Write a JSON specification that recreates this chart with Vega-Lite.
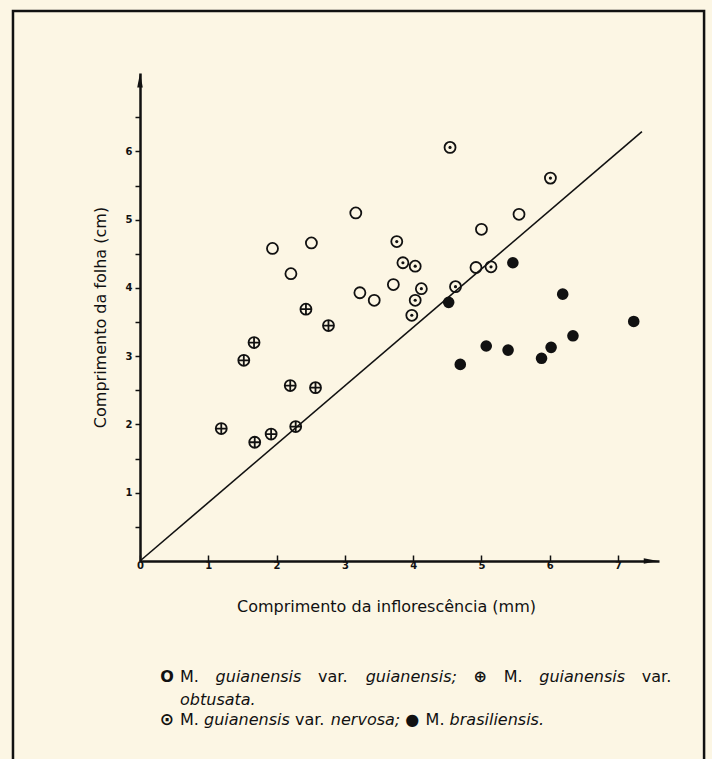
{
  "$schema": "https://vega.github.io/schema/vega-lite/v6.json",
  "width": 519,
  "height": 488,
  "autosize": "none",
  "padding": {"left": 140, "top": 73, "right": 53, "bottom": 198},
  "background": "#fcf6e4",
  "config": {
    "view": {"stroke": null},
    "text": {"font": "DejaVu Sans", "fontSize": 16, "color": "#111"}
  },
  "datasets": {
    "pontos": [
      {"x": 1.94, "y": 4.58, "grupo": "guianensis"},
      {"x": 2.51, "y": 4.66, "grupo": "guianensis"},
      {"x": 2.21, "y": 4.21, "grupo": "guianensis"},
      {"x": 3.16, "y": 5.10, "grupo": "guianensis"},
      {"x": 3.22, "y": 3.93, "grupo": "guianensis"},
      {"x": 3.43, "y": 3.82, "grupo": "guianensis"},
      {"x": 3.71, "y": 4.05, "grupo": "guianensis"},
      {"x": 5.55, "y": 5.08, "grupo": "guianensis"},
      {"x": 5.00, "y": 4.86, "grupo": "guianensis"},
      {"x": 4.92, "y": 4.30, "grupo": "guianensis"},
      {"x": 3.76, "y": 4.68, "grupo": "nervosa"},
      {"x": 3.85, "y": 4.37, "grupo": "nervosa"},
      {"x": 4.03, "y": 4.32, "grupo": "nervosa"},
      {"x": 4.12, "y": 3.99, "grupo": "nervosa"},
      {"x": 4.03, "y": 3.82, "grupo": "nervosa"},
      {"x": 3.98, "y": 3.60, "grupo": "nervosa"},
      {"x": 4.62, "y": 4.02, "grupo": "nervosa"},
      {"x": 5.14, "y": 4.31, "grupo": "nervosa"},
      {"x": 4.54, "y": 6.06, "grupo": "nervosa"},
      {"x": 6.01, "y": 5.61, "grupo": "nervosa"},
      {"x": 5.46, "y": 4.37, "grupo": "brasiliensis"},
      {"x": 4.52, "y": 3.79, "grupo": "brasiliensis"},
      {"x": 6.19, "y": 3.91, "grupo": "brasiliensis"},
      {"x": 7.23, "y": 3.51, "grupo": "brasiliensis"},
      {"x": 6.34, "y": 3.30, "grupo": "brasiliensis"},
      {"x": 4.69, "y": 2.88, "grupo": "brasiliensis"},
      {"x": 5.07, "y": 3.15, "grupo": "brasiliensis"},
      {"x": 5.39, "y": 3.09, "grupo": "brasiliensis"},
      {"x": 5.88, "y": 2.97, "grupo": "brasiliensis"},
      {"x": 6.02, "y": 3.13, "grupo": "brasiliensis"},
      {"x": 2.43, "y": 3.69, "grupo": "obtusata"},
      {"x": 2.76, "y": 3.45, "grupo": "obtusata"},
      {"x": 1.67, "y": 3.20, "grupo": "obtusata"},
      {"x": 1.52, "y": 2.94, "grupo": "obtusata"},
      {"x": 2.20, "y": 2.57, "grupo": "obtusata"},
      {"x": 2.57, "y": 2.54, "grupo": "obtusata"},
      {"x": 1.19, "y": 1.94, "grupo": "obtusata"},
      {"x": 1.68, "y": 1.74, "grupo": "obtusata"},
      {"x": 1.92, "y": 1.86, "grupo": "obtusata"},
      {"x": 2.28, "y": 1.97, "grupo": "obtusata"}
    ],
    "linha": [
      {"x": 0, "y": 0},
      {"x": 7.35, "y": 6.29}
    ]
  },
  "layer": [
    {
      "data": {"values": [{}]},
      "mark": {"type": "rect", "filled": false, "color": "#111", "strokeWidth": 2.5, "clip": false},
      "encoding": {
        "x": {"datum": -1.86, "type": "quantitative"},
        "x2": {"datum": 8.26},
        "y": {"datum": 8.06, "type": "quantitative"},
        "y2": {"datum": -3.3}
      }
    },
    {
      "data": {"name": "linha"},
      "mark": {"type": "line", "color": "#111", "strokeWidth": 1.6},
      "encoding": {
        "x": {"field": "x", "type": "quantitative"},
        "y": {"field": "y", "type": "quantitative"}
      }
    },
    {
      "data": {"name": "pontos"},
      "transform": [{"filter": "datum.grupo !== 'brasiliensis'"}],
      "mark": {"type": "point", "filled": false, "color": "#111", "strokeWidth": 1.8, "size": 121, "opacity": 1},
      "encoding": {
        "x": {
          "field": "x", "type": "quantitative",
          "scale": {"domain": [0, 7.6], "nice": false, "zero": false},
          "axis": {
            "title": "Comprimento da inflorescência (mm)",
            "values": [0, 0.5, 1, 1.5, 2, 2.5, 3, 3.5, 4, 4.5, 5, 5.5, 6, 6.5, 7],
            "labelExpr": "datum.value % 1 === 0 ? '' + datum.value : ''",
            "labelOverlap": false,
            "grid": false,
            "domainColor": "#111", "domainWidth": 2.5,
            "tickColor": "#111", "tickWidth": 1.5, "tickSize": -6,
            "labelFont": "DejaVu Sans", "labelFontWeight": "bold", "labelFontSize": 10, "labelColor": "#111",
            "labelPadding": 5, "labelFlush": false,
            "titleFont": "DejaVu Sans", "titleFontSize": 16, "titleFontWeight": "normal", "titleColor": "#111",
            "titleX": 246, "titleY": 45, "titleBaseline": "middle"
          }
        },
        "y": {
          "field": "y", "type": "quantitative",
          "scale": {"domain": [0, 7.15], "nice": false, "zero": false},
          "axis": {
            "title": "Comprimento da folha (cm)",
            "values": [0.5, 1, 1.5, 2, 2.5, 3, 3.5, 4, 4.5, 5, 5.5, 6, 6.5],
            "labelExpr": "datum.value % 1 === 0 ? '' + datum.value : ''",
            "labelOverlap": false,
            "grid": false,
            "domainColor": "#111", "domainWidth": 2.5,
            "tickColor": "#111", "tickWidth": 1.5, "tickSize": 5,
            "labelFont": "DejaVu Sans", "labelFontWeight": "bold", "labelFontSize": 10, "labelColor": "#111",
            "labelPadding": 3,
            "titleFont": "DejaVu Sans", "titleFontSize": 16, "titleFontWeight": "normal", "titleColor": "#111",
            "titleX": -40, "titleBaseline": "middle"
          }
        },
        "shape": {
          "field": "grupo", "type": "nominal", "legend": null,
          "scale": {
            "domain": ["guianensis", "obtusata", "nervosa"],
            "range": [
              "M-1,0A1,1,0,1,1,1,0A1,1,0,1,1,-1,0Z",
              "M-1,0A1,1,0,1,1,1,0A1,1,0,1,1,-1,0ZM-1,0L1,0M0,-1L0,1",
              "M-1,0A1,1,0,1,1,1,0A1,1,0,1,1,-1,0Z"
            ]
          }
        }
      }
    },
    {
      "data": {"name": "pontos"},
      "transform": [{"filter": "datum.grupo === 'nervosa'"}],
      "mark": {"type": "circle", "color": "#111", "size": 10, "opacity": 1},
      "encoding": {
        "x": {"field": "x", "type": "quantitative"},
        "y": {"field": "y", "type": "quantitative"}
      }
    },
    {
      "data": {"name": "pontos"},
      "transform": [{"filter": "datum.grupo === 'brasiliensis'"}],
      "mark": {"type": "circle", "color": "#111", "size": 135, "opacity": 1},
      "encoding": {
        "x": {"field": "x", "type": "quantitative"},
        "y": {"field": "y", "type": "quantitative"}
      }
    },
    {
      "data": {"values": [{}]},
      "mark": {"type": "point", "shape": "M0,-1L0.35,0.8L-0.35,0.8Z", "filled": true, "color": "#111", "size": 256, "opacity": 1, "clip": false},
      "encoding": {"x": {"datum": 0, "type": "quantitative"}, "y": {"datum": 7.03, "type": "quantitative"}}
    },
    {
      "data": {"values": [{}]},
      "mark": {"type": "point", "shape": "M1,0L-0.8,0.35L-0.8,-0.35Z", "filled": true, "color": "#111", "size": 256, "opacity": 1, "clip": false},
      "encoding": {"x": {"datum": 7.47, "type": "quantitative"}, "y": {"datum": 0, "type": "quantitative"}}
    },
    {"data": {"values": [{}]}, "mark": {"type": "text", "text": "O", "align": "center", "baseline": "middle", "fontWeight": "bold"},
      "encoding": {"x": {"datum": 0.395, "type": "quantitative"}, "y": {"datum": -1.70, "type": "quantitative"}}},
    {"data": {"values": [{}]}, "mark": {"type": "text", "text": "M.", "align": "left", "baseline": "middle"},
      "encoding": {"x": {"datum": 0.586, "type": "quantitative"}, "y": {"datum": -1.70, "type": "quantitative"}}},
    {"data": {"values": [{}]}, "mark": {"type": "text", "text": "guianensis", "align": "left", "baseline": "middle", "fontStyle": "italic"},
      "encoding": {"x": {"datum": 1.107, "type": "quantitative"}, "y": {"datum": -1.70, "type": "quantitative"}}},
    {"data": {"values": [{}]}, "mark": {"type": "text", "text": "var.", "align": "left", "baseline": "middle"},
      "encoding": {"x": {"datum": 2.608, "type": "quantitative"}, "y": {"datum": -1.70, "type": "quantitative"}}},
    {"data": {"values": [{}]}, "mark": {"type": "text", "text": "guianensis;", "align": "left", "baseline": "middle", "fontStyle": "italic"},
      "encoding": {"x": {"datum": 3.305, "type": "quantitative"}, "y": {"datum": -1.70, "type": "quantitative"}}},
    {"data": {"values": [{}]}, "mark": {"type": "text", "text": "⊕", "align": "left", "baseline": "middle", "fontWeight": "bold"},
      "encoding": {"x": {"datum": 4.885, "type": "quantitative"}, "y": {"datum": -1.70, "type": "quantitative"}}},
    {"data": {"values": [{}]}, "mark": {"type": "text", "text": "M.", "align": "left", "baseline": "middle"},
      "encoding": {"x": {"datum": 5.326, "type": "quantitative"}, "y": {"datum": -1.70, "type": "quantitative"}}},
    {"data": {"values": [{}]}, "mark": {"type": "text", "text": "guianensis", "align": "left", "baseline": "middle", "fontStyle": "italic"},
      "encoding": {"x": {"datum": 5.847, "type": "quantitative"}, "y": {"datum": -1.70, "type": "quantitative"}}},
    {"data": {"values": [{}]}, "mark": {"type": "text", "text": "var.", "align": "left", "baseline": "middle"},
      "encoding": {"x": {"datum": 7.348, "type": "quantitative"}, "y": {"datum": -1.70, "type": "quantitative"}}},
    {"data": {"values": [{}]}, "mark": {"type": "text", "text": "obtusata.", "align": "left", "baseline": "middle", "fontStyle": "italic"},
      "encoding": {"x": {"datum": 0.586, "type": "quantitative"}, "y": {"datum": -2.04, "type": "quantitative"}}},
    {"data": {"values": [{}]}, "mark": {"type": "text", "text": "⊙", "align": "center", "baseline": "middle", "fontWeight": "bold", "fontSize": 17},
      "encoding": {"x": {"datum": 0.395, "type": "quantitative"}, "y": {"datum": -2.33, "type": "quantitative"}}},
    {"data": {"values": [{}]}, "mark": {"type": "text", "text": "M.", "align": "left", "baseline": "middle"},
      "encoding": {"x": {"datum": 0.586, "type": "quantitative"}, "y": {"datum": -2.33, "type": "quantitative"}}},
    {"data": {"values": [{}]}, "mark": {"type": "text", "text": "guianensis", "align": "left", "baseline": "middle", "fontStyle": "italic"},
      "encoding": {"x": {"datum": 0.937, "type": "quantitative"}, "y": {"datum": -2.33, "type": "quantitative"}}},
    {"data": {"values": [{}]}, "mark": {"type": "text", "text": "var.", "align": "left", "baseline": "middle"},
      "encoding": {"x": {"datum": 2.269, "type": "quantitative"}, "y": {"datum": -2.33, "type": "quantitative"}}},
    {"data": {"values": [{}]}, "mark": {"type": "text", "text": "nervosa;", "align": "left", "baseline": "middle", "fontStyle": "italic"},
      "encoding": {"x": {"datum": 2.795, "type": "quantitative"}, "y": {"datum": -2.33, "type": "quantitative"}}},
    {"data": {"values": [{}]}, "mark": {"type": "text", "text": "●", "align": "left", "baseline": "middle"},
      "encoding": {"x": {"datum": 3.886, "type": "quantitative"}, "y": {"datum": -2.33, "type": "quantitative"}}},
    {"data": {"values": [{}]}, "mark": {"type": "text", "text": "M.", "align": "left", "baseline": "middle"},
      "encoding": {"x": {"datum": 4.182, "type": "quantitative"}, "y": {"datum": -2.33, "type": "quantitative"}}},
    {"data": {"values": [{}]}, "mark": {"type": "text", "text": "brasiliensis.", "align": "left", "baseline": "middle", "fontStyle": "italic"},
      "encoding": {"x": {"datum": 4.534, "type": "quantitative"}, "y": {"datum": -2.33, "type": "quantitative"}}}
  ]
}
